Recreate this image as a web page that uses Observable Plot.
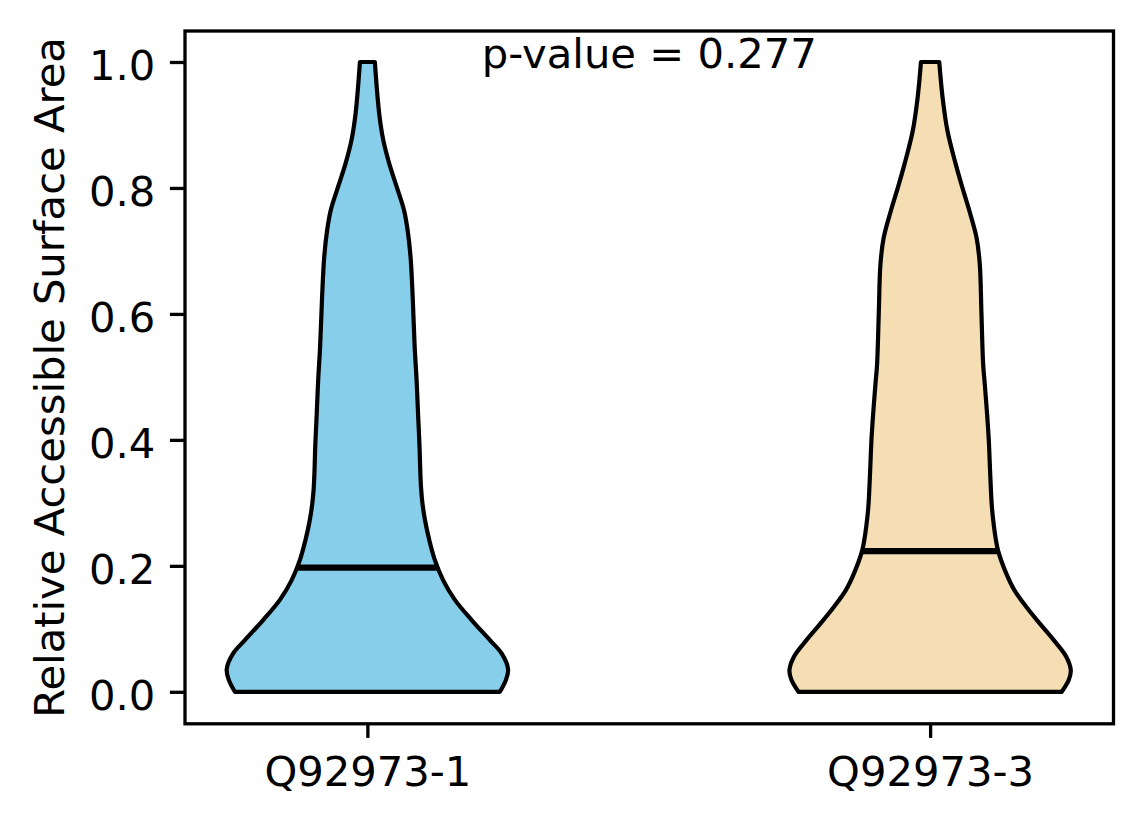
<!DOCTYPE html>
<html>
<head>
<meta charset="utf-8">
<script src="https://cdn.jsdelivr.net/npm/d3@7"></script>
<script src="https://cdn.jsdelivr.net/npm/@observablehq/plot@0.6"></script>
<style>
  html, body { margin: 0; padding: 0; background: white; }
</style>
</head>
<body>
<div id="chart"></div>
<script>
// ---- data ----
const categories = ["Q92973-1", "Q92973-3"];
const colors = ["#87CEEB", "#F5DEB3"];
const pValueText = "p-value = 0.277";
const yLabel = "Relative Accessible Surface Area";
const yTicks = [0, 0.2, 0.4, 0.6, 0.8, 1.0];

// violin 1 profile: RSA value and relative density (1 = widest)
const rsa1 = [0, 0.019, 0.036, 0.061, 0.082, 0.114, 0.146, 0.177, 0.209, 0.241, 0.272, 0.298, 0.322, 0.350, 0.388, 0.442, 0.494, 0.548, 0.627, 0.69, 0.733, 0.765, 0.802, 0.839, 0.876, 0.918, 1.0];
const dens1 = [0.942, 0.985, 1.0, 0.954, 0.871, 0.741, 0.622, 0.539, 0.48, 0.44, 0.41, 0.392, 0.382, 0.376, 0.371, 0.36, 0.35, 0.336, 0.322, 0.307, 0.286, 0.26, 0.208, 0.155, 0.113, 0.084, 0.053];

// violin 2 profile
const rsa2 = [0, 0.019, 0.034, 0.056, 0.082, 0.109, 0.135, 0.161, 0.188, 0.225, 0.241, 0.262, 0.294, 0.347, 0.4, 0.441, 0.49, 0.52, 0.6, 0.679, 0.721, 0.763, 0.8, 0.837, 0.89, 0.943, 1.0];
const dens2 = [0.936, 0.986, 1.0, 0.967, 0.879, 0.777, 0.683, 0.6, 0.541, 0.482, 0.468, 0.454, 0.439, 0.427, 0.417, 0.405, 0.388, 0.377, 0.365, 0.353, 0.33, 0.28, 0.23, 0.183, 0.124, 0.089, 0.065];

const medians = [0.198, 0.224];

// ---- build tables ----
const violinWidth = 0.5; // full width of a violin at its widest
const profiles = [[rsa1, dens1], [rsa2, dens2]];
const rows = [];
profiles.forEach(([ys, ds], k) => {
  ys.forEach((y, i) => rows.push({cat: categories[k], pos: k + 1, y, d: ds[i]}));
});
const medRows = medians.map((m, k) => {
  const [ys, ds] = profiles[k];
  const d = d3.scaleLinear(ys, ds)(m);
  return {cat: categories[k], pos: k + 1, m, d};
});

const FS = 41.7;
const chart = Plot.plot({
  width: 1144,
  height: 824,
  marginLeft: 184.5,
  marginRight: 31,
  marginTop: 30.5,
  marginBottom: 100.7,
  style: {fontFamily: "'DejaVu Sans', sans-serif", fontSize: FS + "px", background: "white", color: "black"},
  x: {domain: [0.675, 2.325], axis: null},
  y: {domain: [-0.05, 1.05], axis: null},
  color: {domain: categories, range: colors},
  marks: [
    Plot.areaX(rows, {
      y: "y",
      x1: r => r.pos - violinWidth / 2 * r.d,
      x2: r => r.pos + violinWidth / 2 * r.d,
      z: "cat",
      fill: "cat",
      stroke: "black",
      strokeWidth: 4.2,
      curve: "catmull-rom"
    }),
    Plot.ruleY(medRows, {
      y: "m",
      x1: r => r.pos - violinWidth / 2 * r.d,
      x2: r => r.pos + violinWidth / 2 * r.d,
      stroke: "black",
      strokeWidth: 6.25
    }),
    Plot.frame({stroke: "black", strokeWidth: 3.3}),
    // y axis ticks
    Plot.axisY(yTicks, {anchor: "left", tickSize: 14.6, strokeWidth: 3.3, tickFormat: () => "", label: null}),
    // y axis labels
    Plot.axisY(yTicks, {anchor: "left", tickSize: 0, tickPadding: 29.6, tickFormat: d3.format(".1f"), fontSize: FS, dy: 4.5, label: null}),
    // x axis ticks
    Plot.axisX([1, 2], {anchor: "bottom", tickSize: 14.6, strokeWidth: 3.3, tickFormat: () => "", label: null}),
    // x axis labels
    Plot.axisX([1, 2], {anchor: "bottom", tickSize: 0, tickPadding: 32.1, tickFormat: d => categories[d - 1], fontSize: FS, label: null}),
    // y axis title
    Plot.text([yLabel], {frameAnchor: "left", rotate: -90, dx: -134.5, lineAnchor: "middle", textAnchor: "middle", fontSize: FS, fill: "black"}),
    // p-value annotation
    Plot.text([pValueText], {x: 1.5, frameAnchor: "top", lineAnchor: "top", dy: 7, fontSize: FS, fill: "black", textAnchor: "middle"})
  ]
});
document.getElementById("chart").appendChild(chart);
</script>
</body>
</html>
